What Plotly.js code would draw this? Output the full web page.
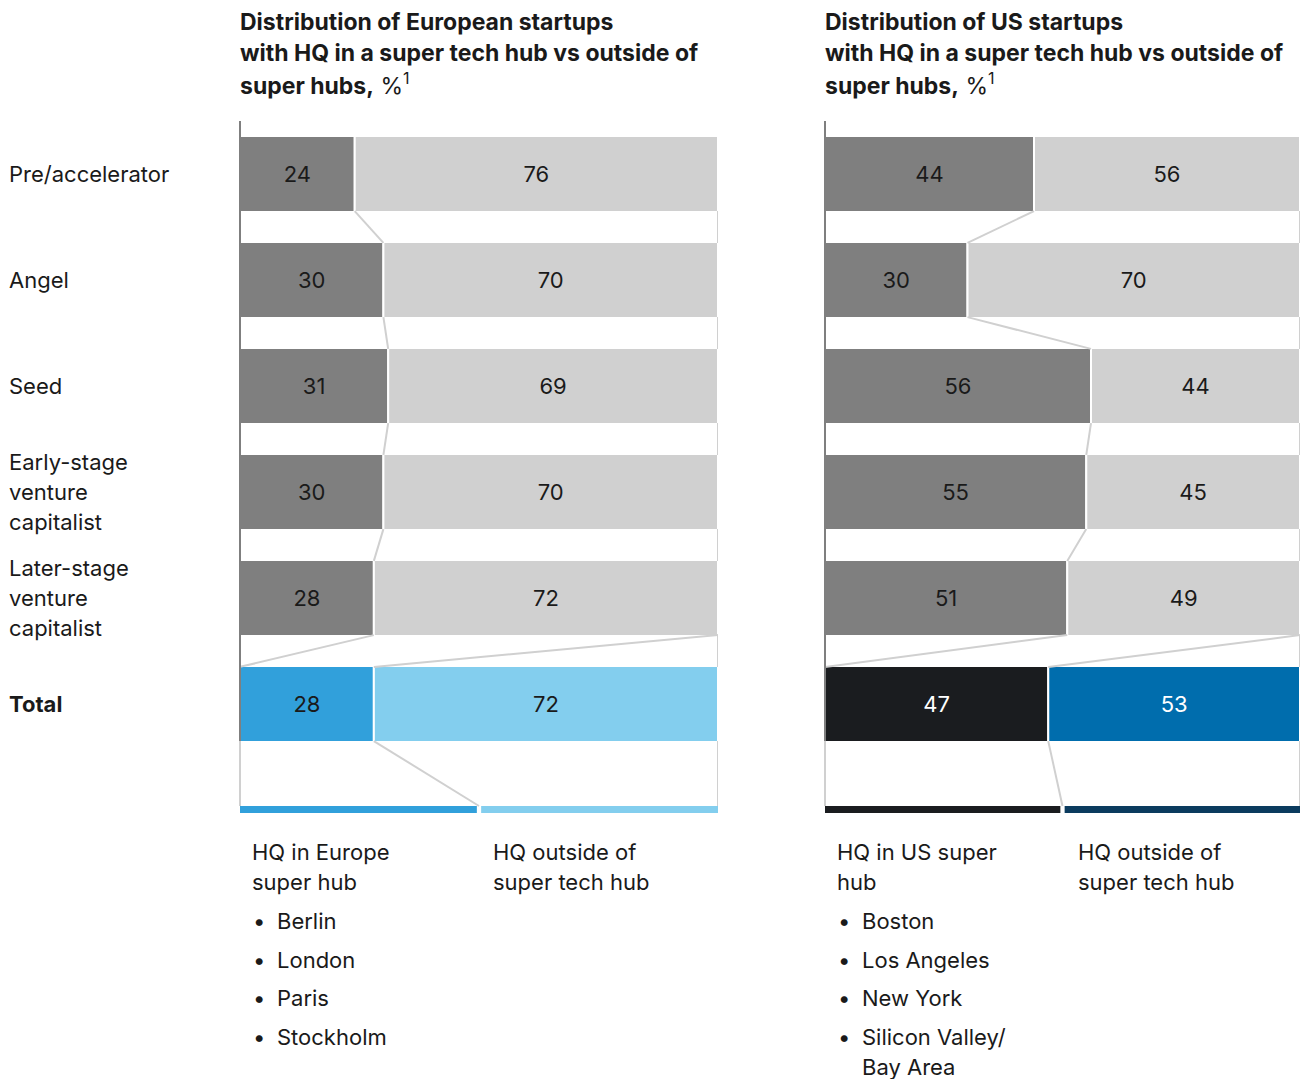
<!DOCTYPE html>
<html><head><meta charset="utf-8">
<script src="https://cdn.plot.ly/plotly-3.0.1.min.js"></script>
<style>html,body{margin:0;padding:0;background:#fff}#chart{width:1300px;height:1079px}</style>
</head><body><div id="chart"></div>
<script>
// ---- data ----
const categories = ['Pre/accelerator', 'Angel', 'Seed', 'Early-stage<br>venture<br>capitalist', 'Later-stage<br>venture<br>capitalist', '<b>Total</b>'];
const europeHub = [24, 30, 31, 30, 28, 28];
const europeOutside = [76, 70, 69, 70, 72, 72];
const usHub = [44, 30, 56, 55, 51, 47];
const usOutside = [56, 70, 44, 45, 49, 53];
const europeTitle = ['Distribution of European startups', 'with HQ in a super tech hub vs outside of', 'super hubs,</b> %<sup>1</sup>'];
const usTitle = ['Distribution of US startups', 'with HQ in a super tech hub vs outside of', 'super hubs,</b> %<sup>1</sup>'];
const europeLegend = ['HQ in Europe<br>super hub', 'HQ outside of<br>super tech hub'];
const usLegend = ['HQ in US super<br>hub', 'HQ outside of<br>super tech hub'];
const europeHubs = ['Berlin', 'London', 'Paris', 'Stockholm'];
const usHubs = ['Boston', 'Los Angeles', 'New York', 'Silicon Valley/<br>Bay Area'];

// ---- geometry / style ----
const W = 1300, H = 1079;
const ROW0 = 174, STEP = 106;
const FONT = 'Inter, Liberation Sans, Arial, sans-serif';
const TXT = '#1a1a1a';
const DARK = '#7f7f7f', LIGHT = '#d0d0d0';
const HALF = 0.35;
const px2v = p => (p - ROW0) / STEP;
const py = p => 1 - p / H;
const LEG_TOP = px2v(806), LEG_BOT = px2v(813);
const LEG_SPLIT = 50, LEG_GAP = 0.45;
const DX = -2; // annotation text padding compensation

const panels = [
  {xa: 'x', xref: 'x', dom: [240 / W, 718 / W], hub: europeHub, out: europeOutside,
   totHub: '#31a0db', totOut: '#83ceee', totTxtHub: TXT, totTxtOut: TXT,
   legHub: '#31a0db', legOut: '#83ceee', title: europeTitle, legend: europeLegend, hubs: europeHubs,
   titleX: 240, legX: [252, 493], bulletX: 253, itemX: 277},
  {xa: 'x2', xref: 'x2', dom: [825 / W, 1300 / W], hub: usHub, out: usOutside,
   totHub: '#1a1c1f', totOut: '#006dad', totTxtHub: '#ffffff', totTxtOut: '#ffffff',
   legHub: '#1a1c1f', legOut: '#0b3b5e', title: usTitle, legend: usLegend, hubs: usHubs,
   titleX: 825, legX: [837, 1078], bulletX: 838, itemX: 862}
];

const idx = categories.map((_, i) => i);
const last = categories.length - 1;
const traces = [], shapes = [], annotations = [];

function line(xref, x0, y0, x1, y1, color) {
  shapes.push({type: 'line', xref: xref, yref: 'y', x0, y0, x1, y1, line: {color, width: 2}, layer: 'above'});
}
function ann(text, xpx, ypx, size, opts) {
  annotations.push(Object.assign({text, xref: 'paper', yref: 'paper', x: (xpx + DX) / W, y: py(ypx),
    xanchor: 'left', yanchor: 'middle', showarrow: false, align: 'left',
    font: {family: FONT, size: size, color: TXT}}, opts || {}));
}

panels.forEach(p => {
  traces.push({
    type: 'bar', orientation: 'h', xaxis: p.xa, yaxis: 'y', y: idx, x: p.hub, base: 0, width: 0.717,
    marker: {color: idx.map(i => i === last ? p.totHub : DARK), line: {color: '#ffffff', width: 2}},
    text: p.hub.map(String), textposition: 'inside', insidetextanchor: 'middle', textangle: 0, constraintext: 'none',
    textfont: {family: FONT, size: 22, color: idx.map(i => i === last ? p.totTxtHub : TXT)},
    hoverinfo: 'skip', showlegend: false
  });
  traces.push({
    type: 'bar', orientation: 'h', xaxis: p.xa, yaxis: 'y', y: idx, x: p.out, base: p.hub, width: 0.717,
    marker: {color: idx.map(i => i === last ? p.totOut : LIGHT), line: {color: '#ffffff', width: 2}},
    text: p.out.map(String), textposition: 'inside', insidetextanchor: 'middle', textangle: 0, constraintext: 'none',
    textfont: {family: FONT, size: 22, color: idx.map(i => i === last ? p.totTxtOut : TXT)},
    hoverinfo: 'skip', showlegend: false
  });

  // connectors between stage rows
  for (let i = 0; i < last - 1; i++) {
    line(p.xref, p.hub[i], i + HALF, p.hub[i + 1], i + 1 - HALF, LIGHT);
    line(p.xref, 100, i + HALF, 100, i + 1 - HALF, LIGHT);
  }
  // funnel into total row
  const k = last - 1;
  line(p.xref, p.hub[k], k + HALF, 0, last - HALF, LIGHT);
  line(p.xref, 100, k + HALF, p.hub[last], last - HALF, LIGHT);
  line(p.xref, 100, k + HALF, 100, last - HALF, LIGHT);
  // total to legend swatches
  line(p.xref, p.hub[last], last + HALF, LEG_SPLIT, LEG_TOP, LIGHT);
  line(p.xref, 100, last + HALF, 100, LEG_TOP, LIGHT);
  // axis line (paper x at the panel's left edge so it is not clipped)
  shapes.push({type: 'line', xref: 'paper', yref: 'y', x0: p.dom[0], x1: p.dom[0], y0: px2v(121), y1: last + HALF,
    line: {color: DARK, width: 2}, layer: 'above'});
  shapes.push({type: 'line', xref: 'paper', yref: 'y', x0: p.dom[0], x1: p.dom[0], y0: last + HALF, y1: LEG_TOP,
    line: {color: LIGHT, width: 2}, layer: 'above'});
  // legend swatches
  shapes.push({type: 'rect', xref: p.xref, yref: 'y', x0: 0, x1: LEG_SPLIT - LEG_GAP, y0: LEG_TOP, y1: LEG_BOT,
    fillcolor: p.legHub, line: {width: 0}});
  shapes.push({type: 'rect', xref: p.xref, yref: 'y', x0: LEG_SPLIT + LEG_GAP, x1: 100, y0: LEG_TOP, y1: LEG_BOT,
    fillcolor: p.legOut, line: {width: 0}});

  // title lines
  p.title.forEach((t, j) => ann('<b>' + t + (t.indexOf('</b>') >= 0 ? '' : '</b>'), p.titleX, 22 + 31 * j, 23));
  // legend headers
  p.legend.forEach((t, c) => t.split('<br>').forEach((l, j) => ann(l, p.legX[c], 852 + 30 * j, 22)));
  // bullet lists
  let y = 921;
  p.hubs.forEach(h => {
    ann('•', p.bulletX, y, 22);
    h.split('<br>').forEach((l, j) => ann(l, p.itemX, y + 30 * j, 22));
    y += 38.7 + 30 * (h.split('<br>').length - 1);
  });
});

// category labels
categories.forEach((c, i) => {
  const lines = c.split('<br>');
  lines.forEach((l, j) => {
    const yc = ROW0 + STEP * i + (j - (lines.length - 1) / 2) * 30;
    ann(l, 9, yc, 22);
  });
});

const axisHidden = {showgrid: false, zeroline: false, showticklabels: false, showline: false, ticks: '', fixedrange: true};
const layout = {
  width: W, height: H, margin: {l: 0, r: 0, t: 0, b: 0},
  paper_bgcolor: '#ffffff', plot_bgcolor: 'rgba(0,0,0,0)',
  barmode: 'overlay', showlegend: false,
  font: {family: FONT, color: TXT},
  xaxis: Object.assign({domain: panels[0].dom, range: [0, 100], anchor: 'y'}, axisHidden),
  xaxis2: Object.assign({domain: panels[1].dom, range: [0, 100], anchor: 'y'}, axisHidden),
  yaxis: Object.assign({domain: [0, 1], range: [px2v(H), px2v(0)], anchor: 'x'}, axisHidden),
  shapes, annotations
};
Plotly.newPlot('chart', traces, layout, {displayModeBar: false, staticPlot: true});
</script></body></html>
